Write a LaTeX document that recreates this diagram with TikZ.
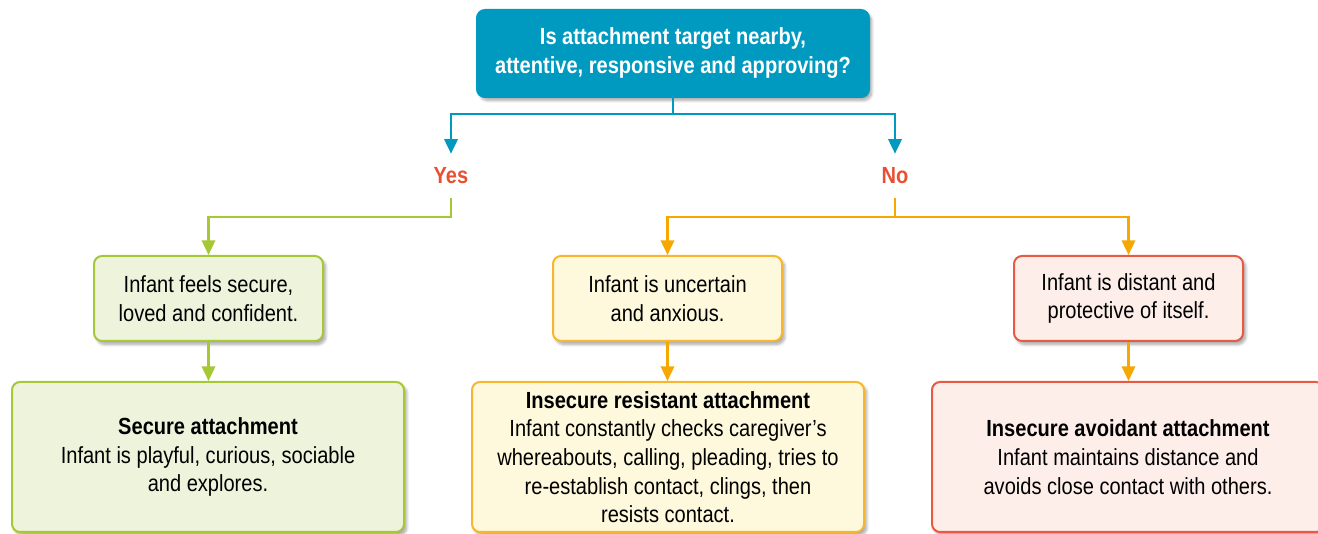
\documentclass[tikz,border=0pt]{standalone}
\usepackage{fontspec}
\setmainfont{Liberation Sans}[FakeStretch=0.86]
\usetikzlibrary{arrows.meta,shadows.blur}

\definecolor{qblue}{RGB}{0,154,192}
\definecolor{ansred}{RGB}{232,80,50}
\definecolor{lime}{RGB}{166,200,52}
\definecolor{limefill}{RGB}{238,243,220}
\definecolor{amber}{RGB}{246,168,0}
\definecolor{amberedge}{RGB}{247,182,48}
\definecolor{amberfill}{RGB}{254,249,220}
\definecolor{coral}{RGB}{233,90,68}
\definecolor{coralfill}{RGB}{253,238,234}

\tikzset{
  card/.style={rounded corners=6pt, line width=1.5pt, align=center, inner sep=0pt,
    font=\fontsize{17.5}{21.5}\selectfont,
    blur shadow={shadow xshift=2pt, shadow yshift=-2.5pt, shadow blur steps=8, shadow opacity=35}},
  smallcard/.style={card, minimum width=171.75pt, minimum height=63.75pt},
  bigcard/.style={card, minimum width=294pt, minimum height=112.5pt},
  answer/.style={font=\bfseries\fontsize{17.5}{20}\selectfont, text=ansred, inner sep=0pt, minimum height=33pt},
  link/.style={line width=1.9pt, -{Triangle[length=11pt,width=10pt]}},
  plain/.style={line width=1.9pt},
}

\begin{document}
\begin{tikzpicture}[x=0.75pt,y=-0.75pt]
\useasboundingbox (0,0) rectangle (1318,534);

% question
\node[card, fill=qblue, draw=qblue, text=white, minimum width=294pt, minimum height=65.25pt,
      font=\bfseries\fontsize{17.5}{21.75}\selectfont] (q) at (673,53.5)
  {Is attachment target nearby,\\attentive, responsive and approving?};

% answers
\node[answer] (yes) at (451,176) {Yes};
\node[answer] (no)  at (895,176) {No};

% middle row
\node[smallcard, fill=limefill, draw=lime] (feel) at (208.5,298.5)
  {Infant feels secure,\\loved and confident.};
\node[smallcard, fill=amberfill, draw=amberedge] (unsure) at (667.5,298.5)
  {Infant is uncertain\\and anxious.};
\node[smallcard, fill=coralfill, draw=coral] (distant) at (1128.5,298.5)
  {Infant is distant and\\protective of itself.};

% bottom row
\node[bigcard, fill=limefill, draw=lime] (secure) at (208,457)
  {\textbf{Secure attachment}\\Infant is playful, curious, sociable\\and explores.};
\node[bigcard, fill=amberfill, draw=amberedge] (resist) at (668,457)
  {\textbf{Insecure resistant attachment}\\Infant constantly checks caregiver’s\\whereabouts, calling, pleading, tries to\\re-establish contact, clings, then\\resists contact.};
\node[bigcard, fill=coralfill, draw=coral] (avoid) at (1128,457)
  {\textbf{Insecure avoidant attachment}\\Infant maintains distance and\\avoids close contact with others.};

% connectors
\coordinate (qsplit) at (673,114);
\coordinate (ysplit) at (451,217);
\coordinate (nsplit) at (895,217);

\draw[plain, qblue] (q.south) -- (qsplit);
\draw[link, qblue] (qsplit) -| (yes.north);
\draw[link, qblue] (qsplit) -| (no.north);

\draw[link, lime] (yes.south) -- (ysplit) -| (feel.north);
\draw[plain, amber] (no.south) -- (nsplit);
\draw[link, amber] (nsplit) -| (unsure.north);
\draw[link, amber] (nsplit) -| (distant.north);

\draw[link, lime] (feel.south) -- (feel.south |- secure.north);
\draw[link, amber] (unsure.south) -- (unsure.south |- resist.north);
\draw[link, amber] (distant.south) -- (distant.south |- avoid.north);
\end{tikzpicture}
\end{document}
